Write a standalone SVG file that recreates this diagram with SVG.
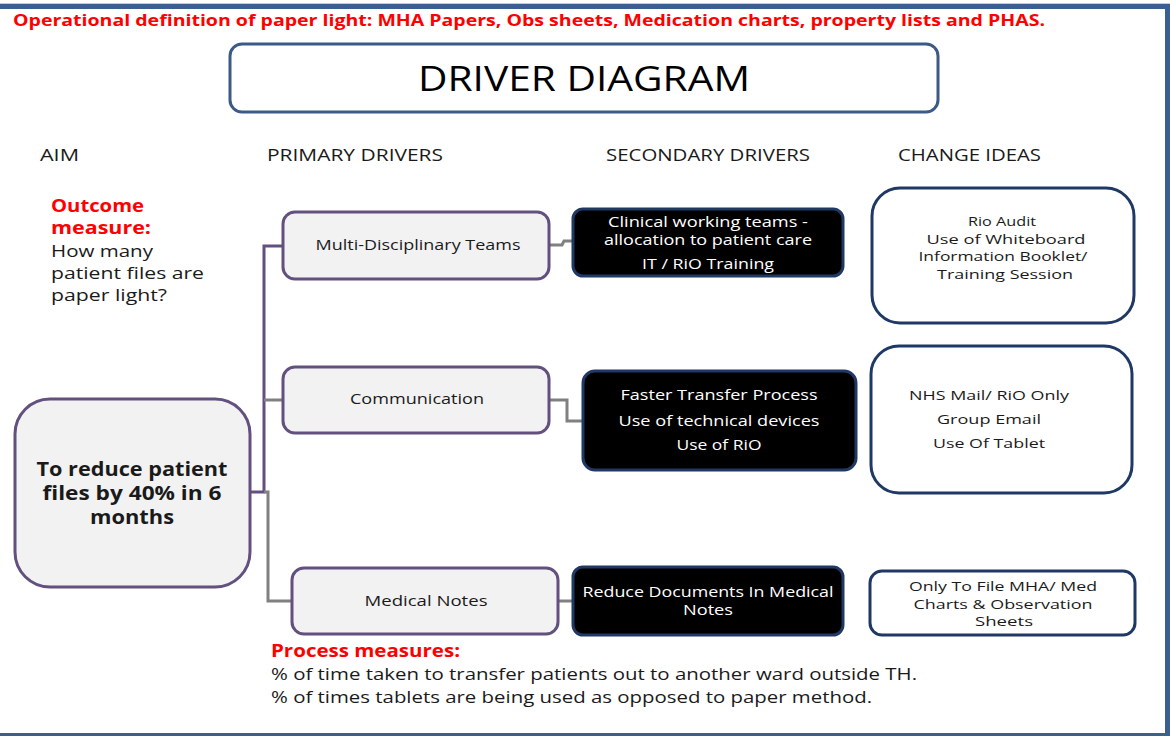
<svg xmlns="http://www.w3.org/2000/svg" width="1170" height="736" viewBox="0 0 1170 736">
<style>
text{font-family:"Open Sans","Noto Sans","Liberation Sans",sans-serif;}
.hdr{font-size:17px;fill:#1a1a1a;}
.red{fill:#ff0000;font-weight:bold;}
.body{font-size:17px;fill:#1a1a1a;}
.prim{fill:#f2f2f2;stroke:#62507f;stroke-width:3;}
.sec{fill:#000;stroke:#1f3864;stroke-width:3;}
.chg{fill:#fff;stroke:#1f3864;stroke-width:3;}
.pt{font-size:15px;fill:#1a1a1a;text-anchor:middle;}
.st{font-size:14.5px;fill:#fff;text-anchor:middle;}
.ct{font-size:13.5px;fill:#1a1a1a;text-anchor:middle;}
.at{font-size:19px;font-weight:bold;fill:#1a1a1a;text-anchor:middle;}
.cg{fill:none;stroke:#808080;stroke-width:3;}
.cp{fill:none;stroke:#62507f;stroke-width:3;}
</style>
<rect x="0" y="0" width="1170" height="736" fill="#fff"/>
<g id="frame">
<rect x="0" y="3" width="1170" height="2" fill="#c4ccd6"/>
<rect x="0" y="4" width="1170" height="5" fill="#3a5f91"/>
<rect x="1165" y="4" width="5" height="732" fill="#3a5f91"/>
<rect x="0" y="733" width="1170" height="3" fill="#3a5f91"/>
</g>
<text id="opdef" x="13" y="26" class="red" font-size="16" textLength="1032" lengthAdjust="spacingAndGlyphs">Operational definition of paper light: MHA Papers, Obs sheets, Medication charts, property lists and PHAS.</text>
<g id="title">
<rect x="230" y="44" width="708" height="68" rx="12" fill="#fff" stroke="#3b5a85" stroke-width="3"/>
<text x="584" y="91" font-size="34" fill="#000" text-anchor="middle" textLength="332" lengthAdjust="spacingAndGlyphs">DRIVER DIAGRAM</text>
</g>
<g id="headers">
<text x="40" y="161" class="hdr" textLength="39" lengthAdjust="spacingAndGlyphs">AIM</text>
<text x="267" y="161" class="hdr" textLength="176" lengthAdjust="spacingAndGlyphs">PRIMARY DRIVERS</text>
<text x="606" y="161" class="hdr" textLength="204" lengthAdjust="spacingAndGlyphs">SECONDARY DRIVERS</text>
<text x="898" y="161" class="hdr" textLength="143" lengthAdjust="spacingAndGlyphs">CHANGE IDEAS</text>
</g>
<g id="outcome">
<text x="51" y="212" class="red" font-size="17" textLength="93" lengthAdjust="spacingAndGlyphs">Outcome</text>
<text x="51" y="234" class="red" font-size="17" textLength="100" lengthAdjust="spacingAndGlyphs">measure:</text>
<text x="51" y="257" class="body" textLength="102" lengthAdjust="spacingAndGlyphs">How many</text>
<text x="51" y="279" class="body" textLength="153" lengthAdjust="spacingAndGlyphs">patient files are</text>
<text x="51" y="301" class="body" textLength="116" lengthAdjust="spacingAndGlyphs">paper light?</text>
</g>
<g id="connectors">
<polyline class="cp" points="250,492 264,492 264,246 283,246"/>
<polyline class="cg" points="264,400 283,400"/>
<polyline class="cg" points="264,492 268,492 268,601 292,601"/>
<polyline class="cg" points="549,245 562,245 564,241 573,241"/>
<polyline class="cg" points="549,400 567,400 567,421 583,421"/>
<polyline class="cg" points="558,601 573,601"/>
</g>
<g id="aim">
<rect x="15" y="399" width="235" height="188" rx="35" class="prim"/>
<text x="132" y="476" class="at" textLength="191" lengthAdjust="spacingAndGlyphs">To reduce patient</text>
<text x="132" y="500" class="at" textLength="179" lengthAdjust="spacingAndGlyphs">files  by 40% in 6</text>
<text x="132" y="524" class="at" textLength="84" lengthAdjust="spacingAndGlyphs">months</text>
</g>
<g id="p-mdt">
<rect x="283" y="212" width="266" height="67" rx="12" class="prim"/>
<text x="418" y="250" class="pt" textLength="205" lengthAdjust="spacingAndGlyphs">Multi-Disciplinary Teams</text>
</g>
<g id="p-comm">
<rect x="283" y="367" width="266" height="66" rx="12" class="prim"/>
<text x="417" y="404" class="pt" textLength="134" lengthAdjust="spacingAndGlyphs">Communication</text>
</g>
<g id="p-med">
<rect x="292" y="568" width="266" height="66" rx="12" class="prim"/>
<text x="426" y="606" class="pt" textLength="123" lengthAdjust="spacingAndGlyphs">Medical Notes</text>
</g>
<g id="s-clin">
<rect x="573" y="209" width="270" height="67" rx="10" class="sec"/>
<text x="708" y="227" class="st" textLength="200" lengthAdjust="spacingAndGlyphs">Clinical working teams -</text>
<text x="708" y="245" class="st" textLength="208" lengthAdjust="spacingAndGlyphs">allocation to patient care</text>
<text x="708" y="269" class="st" textLength="132" lengthAdjust="spacingAndGlyphs">IT / RiO Training</text>
</g>
<g id="s-fast">
<rect x="583" y="371" width="273" height="99" rx="12" class="sec"/>
<text x="719" y="400" class="st" textLength="197" lengthAdjust="spacingAndGlyphs">Faster  Transfer Process</text>
<text x="719" y="426" class="st" textLength="201" lengthAdjust="spacingAndGlyphs">Use of technical devices</text>
<text x="719" y="450" class="st" textLength="85" lengthAdjust="spacingAndGlyphs">Use of RiO</text>
</g>
<g id="s-red">
<rect x="573" y="567" width="270" height="68" rx="10" class="sec"/>
<text x="708" y="597" class="st" textLength="251" lengthAdjust="spacingAndGlyphs">Reduce Documents In Medical</text>
<text x="708" y="615" class="st" textLength="50" lengthAdjust="spacingAndGlyphs">Notes</text>
</g>
<g id="c-rio">
<rect x="872" y="188" width="262" height="135" rx="28" class="chg"/>
<text x="1002" y="226" class="ct" textLength="68" lengthAdjust="spacingAndGlyphs">Rio Audit</text>
<text x="1006" y="244" class="ct" textLength="159" lengthAdjust="spacingAndGlyphs">Use of Whiteboard</text>
<text x="1003" y="261" class="ct" textLength="169" lengthAdjust="spacingAndGlyphs">Information Booklet/</text>
<text x="1005" y="279" class="ct" textLength="136" lengthAdjust="spacingAndGlyphs">Training Session</text>
</g>
<g id="c-nhs">
<rect x="871" y="346" width="261" height="147" rx="28" class="chg"/>
<text x="989" y="400" class="ct" textLength="160" lengthAdjust="spacingAndGlyphs">NHS Mail/ RiO Only</text>
<text x="989" y="424" class="ct" textLength="104" lengthAdjust="spacingAndGlyphs">Group Email</text>
<text x="989" y="448" class="ct" textLength="112" lengthAdjust="spacingAndGlyphs">Use Of Tablet</text>
</g>
<g id="c-file">
<rect x="870" y="571" width="265" height="64" rx="12" class="chg"/>
<text x="1003" y="591" class="ct" textLength="188" lengthAdjust="spacingAndGlyphs">Only To File MHA/ Med</text>
<text x="1003" y="609" class="ct" textLength="179" lengthAdjust="spacingAndGlyphs">Charts &amp; Observation</text>
<text x="1004" y="626" class="ct" textLength="58" lengthAdjust="spacingAndGlyphs">Sheets</text>
</g>
<g id="process">
<text x="271" y="657" class="red" font-size="17" textLength="189" lengthAdjust="spacingAndGlyphs">Process  measures:</text>
<text x="271" y="680" class="body" textLength="646" lengthAdjust="spacingAndGlyphs">% of time taken to transfer patients out to another ward outside TH.</text>
<text x="271" y="703" class="body" textLength="601" lengthAdjust="spacingAndGlyphs">% of times tablets are being used as opposed to paper method.</text>
</g>
</svg>
